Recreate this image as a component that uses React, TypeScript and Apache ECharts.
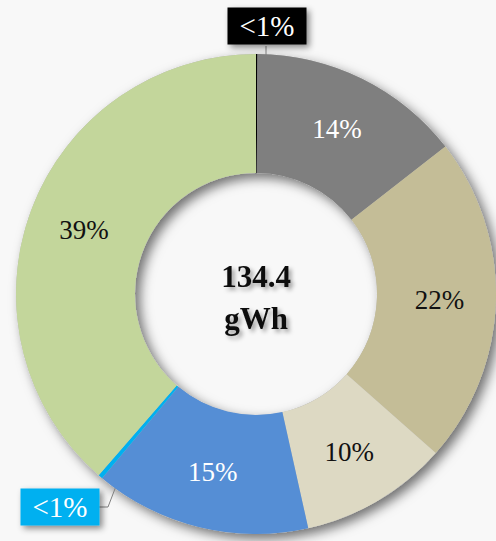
import React, { useEffect, useRef } from 'react';
import * as echarts from 'echarts';

const categories = ['Black', 'Gray', 'Tan', 'Beige', 'Blue', 'Cyan', 'Green'];
const values = [0.1, 14.4, 22.1, 10.0, 14.6, 0.3, 38.7];
const colors = ['#000000', '#7f7f7f', '#c4bd97', '#ddd9c3', '#558ed5', '#00b0f0', '#c3d69b'];
const labelColors = ['#ffffff', '#ffffff', '#111111', '#111111', '#ffffff', '#ffffff', '#111111'];
const centerLabel = '134.4\ngWh';

const SERIF = '"Liberation Serif", "DejaVu Serif", serif';

export default function App() {
  const ref = useRef<HTMLDivElement>(null);

  useEffect(() => {
    if (!ref.current) return;
    const chart = echarts.init(ref.current, undefined, { renderer: 'svg' });
    const small = (i: number) => values[i] < 1;

    const data = categories.map((name, i) => {
      const base: any = {
        name,
        value: values[i],
        itemStyle: { color: colors[i] },
      };
      if (small(i)) {
        base.label = {
          show: true,
          position: 'outside',
          color: '#ffffff',
          backgroundColor: colors[i],
          padding: [5, 12, 3, 12],
          fontSize: 29,
          fontFamily: SERIF,
          shadowColor: 'rgba(0,0,0,0.45)',
          shadowBlur: 6,
          shadowOffsetX: 3,
          shadowOffsetY: 3,
        };
        base.labelLine = { show: true, lineStyle: { color: '#808080', width: 1 } };
      } else {
        base.label = {
          show: true,
          position: 'inside',
          color: labelColors[i],
          fontSize: 27,
          fontFamily: SERIF,
        };
        base.labelLine = { show: false };
      }
      return base;
    });

    chart.setOption({
      animation: false,
      backgroundColor: '#f8f8f8',
      graphic: [
        {
          type: 'text',
          x: 256,
          y: 297,
          z: 100,
          style: {
            text: centerLabel,
            fill: '#111111',
            font: `bold 31px ${SERIF}`,
            lineHeight: 42,
            align: 'center',
            verticalAlign: 'middle',
            textShadowColor: 'rgba(0,0,0,0.35)',
            textShadowBlur: 4,
            textShadowOffsetX: 3,
            textShadowOffsetY: 3,
          },
        },
      ],
      series: [
        {
          type: 'pie',
          silent: true,
          center: [256, 294],
          radius: [121, 240],
          z: 1,
          label: { show: false },
          labelLine: { show: false },
          itemStyle: {
            color: '#b8b8b8',
            shadowColor: 'rgba(0,0,0,0.55)',
            shadowBlur: 12,
            shadowOffsetX: 5,
            shadowOffsetY: 5,
          },
          data: [{ name: 'ring', value: 1 }],
        },
        {
          type: 'pie',
          center: [256, 294],
          radius: [121, 240],
          startAngle: 90,
          clockwise: true,
          z: 2,
          avoidLabelOverlap: false,
          minAngle: 0,
          label: {
            formatter: (p: any) => (p.percent < 1 ? '<1%' : `${Math.round(p.percent)}%`),
          },
          labelLayout: (params: any) => {
            if (params.dataIndex === 0) {
              return {
                x: 267,
                y: 26,
                align: 'center',
                verticalAlign: 'middle',
                labelLinePoints: [
                  [266, 56],
                  [266, 51],
                  [266, 46],
                ],
              };
            }
            if (params.dataIndex === 5) {
              return {
                x: 60,
                y: 507,
                align: 'center',
                verticalAlign: 'middle',
                labelLinePoints: [
                  [126, 460],
                  [108, 507],
                  [98, 507],
                ],
              };
            }
            return {};
          },
          data,
        },
      ],
    });

    return () => chart.dispose();
  }, []);

  return (
    <div
      ref={ref}
      style={{ position: 'absolute', left: 0, top: 0, width: 496, height: 541 }}
    />
  );
}
